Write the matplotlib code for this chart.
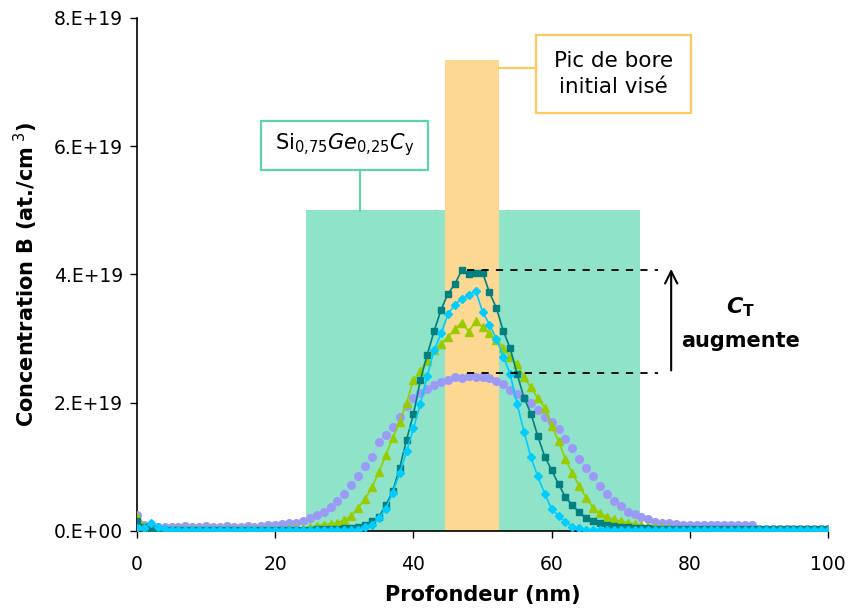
import numpy as np
import matplotlib.pyplot as plt
from matplotlib.patches import Rectangle

# --- data (concentration in units of 1e19 at./cm3) ---
depth = list(range(0, 101))

conc_teal = [0.15, 0.06, 0.04, 0.03, 0.02, 0.02, 0.02, 0.02, 0.02, 0.02,
             0.02, 0.02, 0.02, 0.02, 0.02, 0.02, 0.02, 0.02, 0.02, 0.02,
             0.02, 0.02, 0.02, 0.02, 0.02, 0.02, 0.03, 0.03, 0.03, 0.03,
             0.04, 0.05, 0.07, 0.10, 0.15, 0.22, 0.40, 0.62, 0.98, 1.42,
             1.82, 2.35, 2.75, 3.12, 3.45, 3.70, 3.85, 4.07, 4.01, 4.02,
             4.03, 3.72, 3.48, 3.12, 2.85, 2.45, 2.08, 1.83, 1.48, 1.16,
             0.95, 0.73, 0.53, 0.40, 0.29, 0.20, 0.15, 0.12, 0.10, 0.08,
             0.07, 0.06, 0.05, 0.05, 0.04, 0.03, 0.03, 0.03, 0.03, 0.03,
             0.03, 0.03, 0.03, 0.03, 0.03, 0.03, 0.03, 0.03, 0.03, 0.03,
             0.03, 0.03, 0.03, 0.03, 0.03, 0.03, 0.03, 0.03, 0.03, 0.03,
             0.03]

conc_cyan = [0.05, 0.04, 0.12, 0.06, 0.03, 0.02, 0.02, 0.02, 0.02, 0.02,
             0.02, 0.02, 0.02, 0.02, 0.02, 0.02, 0.02, 0.02, 0.02, 0.02,
             0.02, 0.02, 0.02, 0.02, 0.02, 0.02, 0.02, 0.02, 0.02, 0.02,
             0.02, 0.02, 0.02, 0.06, 0.10, 0.20, 0.35, 0.60, 0.90, 1.24,
             1.60, 1.98, 2.42, 2.82, 3.08, 3.38, 3.53, 3.62, 3.68, 3.75,
             3.42, 3.22, 3.00, 2.72, 2.45, 1.98, 1.55, 1.15, 0.85, 0.58,
             0.34, 0.24, 0.14, 0.07, 0.04, 0.02, 0.02, 0.02, 0.02, 0.02,
             0.02, 0.02, 0.02, 0.02, 0.02, 0.02, 0.02, 0.02, 0.02, 0.02,
             0.02, 0.02, 0.02, 0.02, 0.02, 0.02, 0.02, 0.02, 0.02, 0.02,
             0.02, 0.02, 0.02, 0.02, 0.02, 0.02, 0.02, 0.02, 0.02, 0.02,
             0.02]

conc_green = [0.22, 0.08, 0.05, 0.04, 0.03, 0.03, 0.03, 0.03, 0.03, 0.03,
              0.03, 0.03, 0.03, 0.03, 0.03, 0.03, 0.03, 0.03, 0.03, 0.03,
              0.03, 0.03, 0.04, 0.04, 0.05, 0.06, 0.08, 0.10, 0.11, 0.13,
              0.17, 0.24, 0.36, 0.50, 0.68, 0.92, 1.18, 1.45, 1.70, 2.00,
              2.35, 2.50, 2.65, 2.82, 2.92, 3.02, 3.15, 3.25, 3.11, 3.27,
              3.18, 3.08, 2.98, 2.86, 2.72, 2.60, 2.40, 2.24, 2.07, 1.92,
              1.64, 1.40, 1.12, 0.90, 0.70, 0.52, 0.36, 0.28, 0.22, 0.18,
              0.15, 0.13, 0.11, 0.09, 0.08, 0.07, 0.06, 0.05, 0.03, 0.02,
              0.01, 0.01, 0.01, 0.01, 0.01, 0.01, 0.01, 0.01, 0.01, 0.01,
              0.01, 0.01, 0.01, 0.01, 0.01, 0.01, 0.01, 0.01, 0.01, 0.01,
              0.01]

conc_lavender = [0.25, 0.10, 0.08, 0.07, 0.06, 0.07, 0.06, 0.08, 0.06, 0.07,
                 0.08, 0.06, 0.07, 0.08, 0.07, 0.06, 0.08, 0.07, 0.08, 0.09,
                 0.10, 0.11, 0.12, 0.13, 0.16, 0.20, 0.25, 0.30, 0.38, 0.47,
                 0.58, 0.72, 0.85, 1.02, 1.16, 1.38, 1.50, 1.62, 1.78, 1.95,
                 2.08, 2.15, 2.22, 2.27, 2.32, 2.36, 2.40, 2.39, 2.42, 2.40,
                 2.40, 2.38, 2.34, 2.30, 2.20, 2.14, 2.08, 2.00, 1.88, 1.77,
                 1.70, 1.59, 1.44, 1.30, 1.12, 0.98, 0.85, 0.70, 0.58, 0.47,
                 0.39, 0.30, 0.26, 0.22, 0.18, 0.14, 0.13, 0.12, 0.11, 0.10,
                 0.10, 0.09, 0.09, 0.09, 0.09, 0.09, 0.09, 0.09, 0.09, 0.09,
                 0.03, 0.03, 0.03, 0.03, 0.03, 0.03, 0.03, 0.03, 0.03, 0.03,
                 0.03]

# SiGeC layer and targeted initial boron peak (nm, 1e19 at./cm3)
layer_span = [24.5, 72.8]
layer_height = 5.0
peak_span = [44.6, 52.4]
peak_height = 7.35

# levels of the dashed markers (1e19 at./cm3)
level_high = 4.07
level_low = 2.46

y_ticks = [0, 2, 4, 6, 8]
y_tick_labels = ["0.E+00", "2.E+19", "4.E+19", "6.E+19", "8.E+19"]
x_ticks = [0, 20, 40, 60, 80, 100]

E19 = 1e19

fig = plt.figure(figsize=(8.49, 6.16), dpi=100)
ax = fig.add_axes([0.1614, 0.138, 0.8139, 0.8328])

# background blocks
ax.bar(layer_span[0], layer_height * E19, width=layer_span[1] - layer_span[0],
       align="edge", color="#8EE3C8", zorder=1)
ax.bar(peak_span[0], peak_height * E19, width=peak_span[1] - peak_span[0],
       align="edge", color="#FDD892", zorder=2)

d = np.array(depth)
ax.plot(d, np.array(conc_lavender) * E19, "-o", color="#99CCFF", lw=1.2,
        markerfacecolor="#9B9BF7", markeredgecolor="#9B9BF7", ms=5.5, zorder=3)
ax.plot(d, np.array(conc_green) * E19, "-^", color="#99CC00", lw=1.2,
        markerfacecolor="#99CC00", markeredgecolor="#99CC00", ms=6, zorder=4)
ax.plot(d, np.array(conc_teal) * E19, "-s", color="#008080", lw=1.2,
        markerfacecolor="#008080", markeredgecolor="#008080", ms=4.8, zorder=5)
ax.plot(d, np.array(conc_cyan) * E19, "-D", color="#00CCFF", lw=1.2,
        markerfacecolor="#00CCFF", markeredgecolor="#00CCFF", ms=4.5, zorder=6)

# dashed guides and arrow
ax.plot([47.8, 75.4], [level_high * E19] * 2, "--", color="black", lw=1.3,
        dashes=(4, 4), zorder=7)
ax.plot([47.8, 75.4], [level_low * E19] * 2, "--", color="black", lw=1.3,
        dashes=(4, 4), zorder=7)
ax.annotate("", xy=(77.3, 4.13 * E19), xytext=(77.3, level_low * E19),
            arrowprops=dict(arrowstyle="->", color="black", lw=1.5,
                            mutation_scale=22), zorder=7)
ax.text(87.3, 3.49 * E19, r"$\mathbfit{C}_{\mathbf{T}}$", ha="center",
        va="center", fontsize=16, zorder=7)
ax.text(87.3, 2.96 * E19, "augmente", ha="center", va="center",
        fontsize=15, fontweight="bold", zorder=7)

# label boxes
ax.add_patch(Rectangle((17.9, 5.63 * E19), 24.2, 0.77 * E19, facecolor="white",
                       edgecolor="#5CD4AE", lw=1.6, zorder=7))
ax.plot([32.3, 32.3], [layer_height * E19, 5.63 * E19], color="#5CD4AE",
        lw=1.6, zorder=7)
ax.text(30.0, 6.02 * E19, r"Si$_{0{,}75}$$Ge_{0{,}25}C_{\mathrm{y}}$",
        ha="center", va="center", fontsize=15, zorder=8)

ax.add_patch(Rectangle((57.7, 6.52 * E19), 22.5, 1.22 * E19, facecolor="white",
                       edgecolor="#FFC95C", lw=1.6, zorder=7))
ax.plot([peak_span[1], 57.7], [7.22 * E19, 7.22 * E19], color="#FFC95C",
        lw=1.6, zorder=7)
ax.text(69.0, 7.13 * E19, "Pic de bore\ninitial visé", ha="center",
        va="center", fontsize=15.5, linespacing=1.35, zorder=8)

ax.set_xlim(0, 100)
ax.set_ylim(0, 8 * E19)
ax.set_xticks(x_ticks)
ax.set_yticks([v * E19 for v in y_ticks])
ax.set_yticklabels(y_tick_labels)
ax.tick_params(direction="out", length=5, width=1, labelsize=13.5)
ax.tick_params(axis="x", pad=12)
ax.tick_params(axis="y", pad=5)

ax.spines["top"].set_visible(False)
ax.spines["right"].set_visible(False)
ax.spines["left"].set_linewidth(1.2)
ax.spines["bottom"].set_linewidth(1.2)

ax.set_xlabel("Profondeur (nm)", fontsize=15, fontweight="bold", labelpad=8)
ax.set_ylabel(r"Concentration B (at./cm$^{\ 3}$)", fontsize=15,
              fontweight="bold", labelpad=10)

plt.savefig("out.png", dpi=100)
